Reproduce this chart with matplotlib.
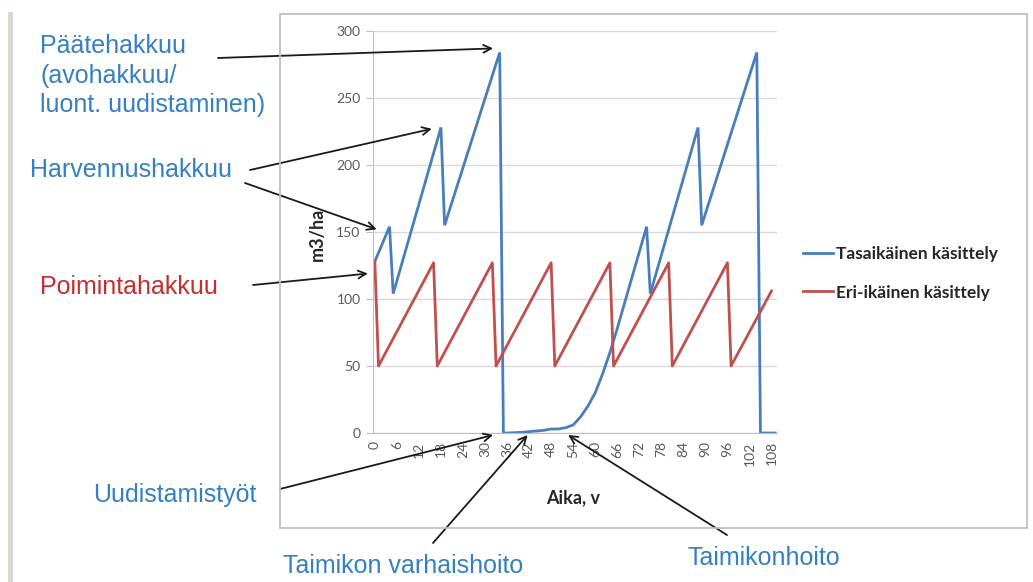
import matplotlib
matplotlib.use("Agg")
import matplotlib.pyplot as plt
from matplotlib.patches import Rectangle

W, H = 1033, 582

# Tasaikäinen käsittely (blue), vertices
tasa_x = [0, 4, 5, 18, 19, 34, 35, 36, 40, 42, 46, 48, 50, 52, 54, 56, 58, 60, 62,
          64, 66, 68, 70, 72, 74, 75, 88, 89, 104, 105, 109]
tasa_y = [128, 154, 104, 228, 155, 284, 0, 0, 0.5, 1, 2, 3, 3, 4, 6, 12, 20, 30, 44,
          60, 78, 97, 116, 135, 154, 104, 228, 155, 284, 0, 0]

# Eri-ikäinen käsittely (red)
eri_x = [0, 1, 16, 17, 32, 33, 48, 49, 64, 65, 80, 81, 96, 97, 108]
eri_y = [128, 50, 127, 50, 127, 50, 127, 50, 127, 50, 127, 50, 127, 50, 106]

x_ticks = list(range(0, 109, 6))
y_ticks = [0, 50, 100, 150, 200, 250, 300]

series_labels = ["Tasaikäinen käsittely", "Eri-ikäinen käsittely"]

# annotation texts: (text, colour, left x px, baseline y px)
notes = [
    ("Päätehakkuu", "#3580c0", 40, 53),
    ("(avohakkuu/", "#3580c0", 40, 83),
    ("luont. uudistaminen)", "#3580c0", 40, 112),
    ("Harvennushakkuu", "#3580c0", 30, 177),
    ("Poimintahakkuu", "#c0302e", 40, 294),
    ("Uudistamistyöt", "#3580c0", 93, 502),
    ("Taimikon varhaishoito", "#3580c0", 283, 573),
    ("Taimikonhoito", "#3580c0", 687, 565),
]

# arrows: start (figure px, from top) -> tip (data x, data y)
arrows = [
    ((218, 58), (32.2, 287)),
    ((250, 170), (15.5, 227)),
    ((245, 183), (0.5, 152)),
    ((253, 285), (-1.9, 119)),
    ((280, 489), (32.2, -1.5)),
    ((433, 543), (41.6, -1.5)),
    ((727, 535), (52.6, -1.5)),
]

fig = plt.figure(figsize=(W / 100, H / 100), dpi=100)
fig.patch.set_facecolor("white")

# slide edge and chart border
fig.patches.append(Rectangle((8 / W, 0), 5 / W, 1 - 12 / H, transform=fig.transFigure,
                             facecolor="#ddd7cd", edgecolor="none"))
fig.patches.append(Rectangle((280 / W, 1 - 528 / H), 747 / W, 514 / H, transform=fig.transFigure,
                             facecolor="none", edgecolor="#bfbfbf", lw=1.3))

ax = fig.add_axes([373 / W, 1 - 433 / H, 404 / W, 402 / H])
ax.set_xlim(-0.5, 109.5)
ax.set_ylim(0, 300)

ax.plot(tasa_x, tasa_y, color="#4a7ebb", lw=2, label=series_labels[0], solid_joinstyle="miter")
ax.plot(eri_x, eri_y, color="#c0504d", lw=2, label=series_labels[1])

ax.set_yticks(y_ticks)
ax.set_xticks(x_ticks)
ax.set_xticklabels([str(v) for v in x_ticks], rotation=90)
ax.grid(True, axis="y", color="#d9d9d9", lw=1)
ax.set_axisbelow(True)
for s in ["top", "right"]:
    ax.spines[s].set_visible(False)
for s in ["left", "bottom"]:
    ax.spines[s].set_color("#bfbfbf")
ax.tick_params(axis="y", length=5, color="#bfbfbf", pad=4, labelsize=10, labelcolor="#595959")
ax.tick_params(axis="x", length=0, pad=6, labelsize=10, labelcolor="#595959")
for lab in ax.get_xticklabels() + ax.get_yticklabels():
    lab.set_family("Lato")

fig.text(317 / W, 1 - 234 / H, "m3/ha", rotation=90, ha="center", va="center",
         family="Lato", fontweight="bold", fontsize=13, color="#262626")
fig.text(573 / W, 1 - 498 / H, "Aika, v", ha="center", va="center",
         family="Lato", fontweight="bold", fontsize=13, color="#262626")

leg = fig.legend(loc="upper left", bbox_to_anchor=(803 / W, 1 - 246 / H), frameon=False,
                 prop={"family": "Lato", "weight": "bold", "size": 12.5},
                 handlelength=1.75, handletextpad=0.15, labelspacing=1.3,
                 borderpad=0, borderaxespad=0)
for t in leg.get_texts():
    t.set_color("#262626")

for txt, col, x, y in notes:
    fig.text(x / W, 1 - y / H, txt, ha="left", va="baseline", color=col,
             family="Liberation Sans", fontsize=18)

for (sx, sy), tip in arrows:
    ax.annotate("", xy=tip, xycoords="data", xytext=(sx, H - sy), textcoords="figure pixels",
                annotation_clip=False,
                arrowprops=dict(arrowstyle="->", color="#1a1a1a", lw=1.3,
                                shrinkA=0, shrinkB=0, mutation_scale=14))

fig.savefig("out.png", dpi=100, facecolor="white")
